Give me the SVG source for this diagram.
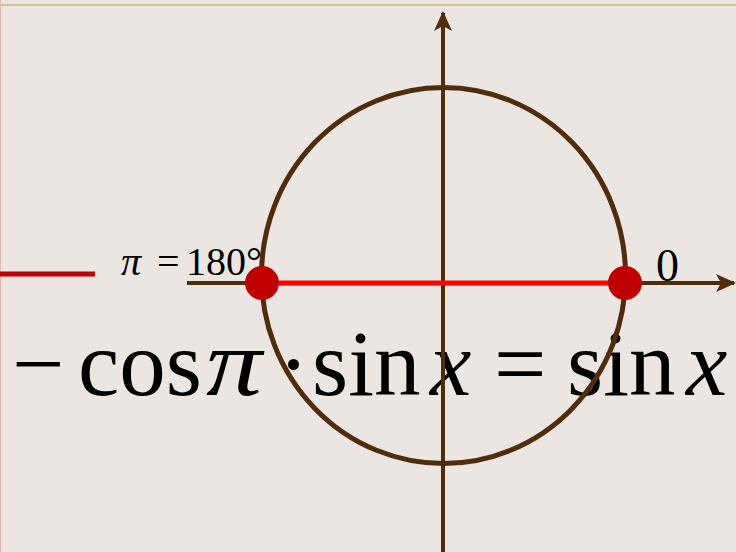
<svg xmlns="http://www.w3.org/2000/svg" width="736" height="552" viewBox="0 0 736 552">
<style>
.ax{stroke:#4F2C0C;stroke-width:4;fill:none}
.t{font-family:"Liberation Serif","Times New Roman",serif;fill:#000}
.i{font-style:italic}
</style>
<defs>
<marker id="ah" viewBox="0 0 20 20" refX="18" refY="10" markerWidth="20" markerHeight="20" markerUnits="userSpaceOnUse" orient="auto">
<path d="M0,1 L20,10 L0,19 L5,10 Z" fill="#4F2C0C"/>
</marker>
</defs>
<rect width="736" height="552" fill="#ECE6E2"/>
<line x1="0" y1="5" x2="736" y2="5" stroke="#D3BE8C" stroke-width="2"/>
<line x1="0.5" y1="0" x2="0.5" y2="552" stroke="#E2B8B0" stroke-width="1"/>
<g id="formula">
<text class="t" y="395" font-size="93"><tspan x="12">−</tspan><tspan x="78">cos</tspan><tspan x="278">·</tspan><tspan x="312">sin</tspan><tspan class="i" x="430">x</tspan><tspan x="494">=</tspan><tspan x="567">sin</tspan><tspan class="i" x="686">x</tspan></text>
<text class="t i" x="206" y="395" font-size="96" textLength="56" lengthAdjust="spacingAndGlyphs">π</text>
</g>
<g id="connectors">
<line class="ax" x1="443" y1="552" x2="443" y2="13" marker-end="url(#ah)"/>
<line class="ax" x1="187" y1="283" x2="734" y2="283" marker-end="url(#ah)"/>
</g>
<g id="circle"><ellipse class="ax" style="stroke-width:5" cx="443.5" cy="275.5" rx="182" ry="188"/></g>
<g id="segment"><line x1="262" y1="283" x2="625" y2="283" stroke="#FF0000" stroke-width="5"/></g>
<g id="leftline"><line x1="0" y1="274" x2="95" y2="274" stroke="#C00000" stroke-width="5"/></g>
<g id="p180"><circle cx="262" cy="283" r="17" fill="#C00000"/></g>
<g id="p0"><circle cx="625" cy="283" r="17" fill="#C00000"/></g>
<g id="label180"><text class="t" y="275" font-size="40"><tspan class="i" x="121">π</tspan><tspan x="157">=</tspan><tspan x="186">180°</tspan></text></g>
<g id="label0"><text class="t" x="656" y="281" font-size="46">0</text></g>
</svg>
